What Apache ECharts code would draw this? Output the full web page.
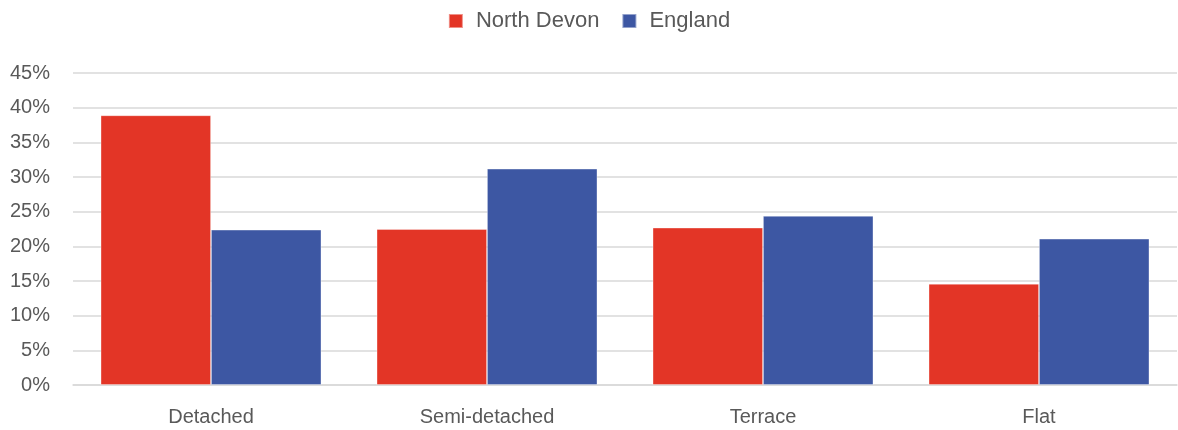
<!DOCTYPE html>
<html><head><meta charset="utf-8">
<script src="https://cdn.jsdelivr.net/npm/echarts@6/dist/echarts.min.js"></script>
<style>html,body{margin:0;padding:0;background:#fff}#c{width:1178px;height:430px}</style>
</head><body><div id="c"></div>
<script>
var categories = ['Detached', 'Semi-detached', 'Terrace', 'Flat'];
var northDevon = [38.9, 22.5, 22.7, 14.6];
var england = [22.4, 31.2, 24.4, 21.1];
var seriesNames = ['North Devon', 'England'];
var FONT = '"Liberation Sans", Arial, sans-serif';
var chart = echarts.init(document.getElementById('c'), null, {renderer: 'canvas'});
chart.setOption({
  animation: false,
  color: ['#e33526', '#3d57a3'],
  legend: {
    top: 5, left: 'center',
    itemWidth: 14, itemHeight: 14, itemGap: 22,
    icon: 'rect',
    textStyle: {fontFamily: FONT, fontSize: 22, color: '#595959', padding: [0, 0, 0, 8]},
    data: seriesNames
  },
  grid: {left: 73, right: 1, top: 73, bottom: 45, containLabel: false},
  xAxis: {
    type: 'category', data: categories,
    axisLine: {show: true, lineStyle: {color: '#d9d9d9', width: 1.5}},
    axisTick: {show: false},
    axisLabel: {fontFamily: FONT, fontSize: 20, color: '#595959', margin: 22}
  },
  yAxis: {
    type: 'value', min: 0, max: 45, interval: 5,
    axisLine: {show: false}, axisTick: {show: false},
    splitLine: {lineStyle: {color: '#d9d9d9', width: 1.5}},
    axisLabel: {fontFamily: FONT, fontSize: 20, color: '#595959', margin: 23, formatter: '{value}%'}
  },
  series: [
    {name: seriesNames[0], type: 'bar', data: northDevon, barGap: '0%', barCategoryGap: '20%',
     itemStyle: {borderColor: 'rgba(255,255,255,0.45)', borderWidth: 0.8}},
    {name: seriesNames[1], type: 'bar', data: england, barGap: '0%', barCategoryGap: '20%',
     itemStyle: {borderColor: 'rgba(255,255,255,0.45)', borderWidth: 0.8}}
  ]
});
</script></body></html>
